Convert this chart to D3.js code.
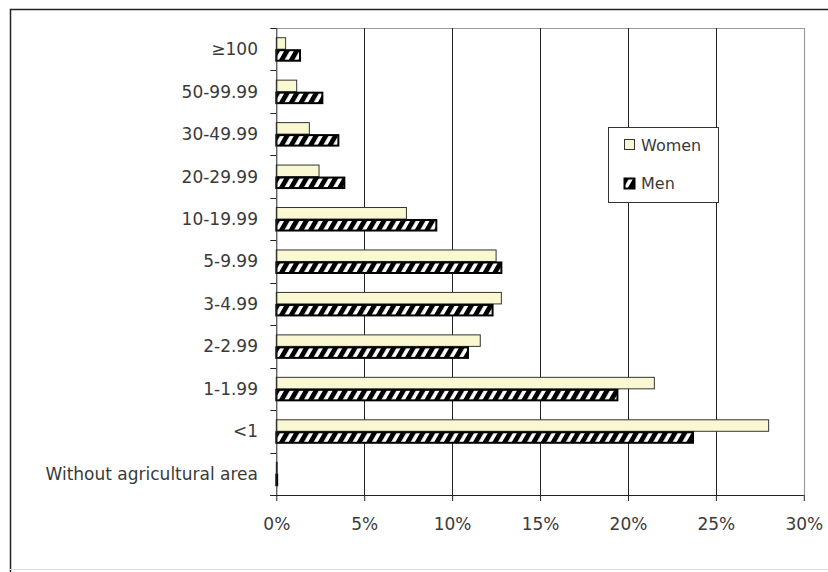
<!doctype html>
<html lang="en">
<head>
  <meta charset="utf-8">
  <title>Women and men by agricultural area</title>
  <script src="https://d3js.org/d3.v7.min.js" charset="utf-8"></script>
</head>
<body style="margin:0;background:#fff;overflow:hidden">
<style>
.chart { display: block; }
.chart text {
  font-family: "DejaVu Sans", Verdana, sans-serif;
  font-size: 17px;
  fill: #3a3a3a;
}
.chart .legend text { font-size: 16px; }
</style>
<svg class="chart"></svg>
<script>
var categories = ["≥100", "50-99.99", "30-49.99", "20-29.99", "10-19.99", "5-9.99",
  "3-4.99", "2-2.99", "1-1.99", "<1", "Without agricultural area"];
var women = [0.53, 1.16, 1.88, 2.43, 7.4, 12.5, 12.8, 11.6, 21.5, 28.0, 0.05];
var men = [1.35, 2.62, 3.53, 3.87, 9.1, 12.8, 12.3, 10.9, 19.4, 23.7, 0.05];
var series = ["Women", "Men"];
var xTicks = [0, 5, 10, 15, 20, 25, 30];

var width = 828, height = 572;
var plotLeft = 276.3, plotRight = 803.8, plotTop = 28, plotBottom = 495;

var svg = d3.select(".chart")
  .attr("width", width)
  .attr("height", height);

// hatch for men
var defs = svg.append("defs");
var pat = defs.append("pattern")
  .attr("id", "hatch")
  .attr("patternUnits", "userSpaceOnUse")
  .attr("width", 8.4).attr("height", 8.4)
  .attr("patternTransform", "rotate(30)");
pat.append("rect").attr("width", 8.4).attr("height", 8.4).attr("fill", "#000");
pat.append("rect").attr("x", 2).attr("width", 3.6).attr("height", 8.4).attr("fill", "#fff");

// outer frame (runs off right edge)
svg.append("path")
  .attr("d", "M10.5,572V9.5H828")
  .attr("fill", "none").attr("stroke", "#222").attr("stroke-width", 1.5);
svg.append("line")
  .attr("x1", 10).attr("x2", 828).attr("y1", 569.5).attr("y2", 569.5)
  .attr("stroke", "#ddd");

var x = d3.scaleLinear().domain([0, 30]).range([plotLeft, plotRight]);
var y = d3.scaleBand().domain(categories).range([plotTop, plotBottom]);
var inner = d3.scaleBand().domain(series).range([9.7, 32.7]);

// plot frame + grid
svg.append("line")
  .attr("x1", plotLeft).attr("x2", plotRight).attr("y1", plotTop + 0.5).attr("y2", plotTop + 0.5)
  .attr("stroke", "#999");
svg.selectAll(".grid").data(xTicks.slice(1)).enter().append("line")
  .attr("class", "grid")
  .attr("x1", function(d) { return Math.round(x(d)) + 0.5; })
  .attr("x2", function(d) { return Math.round(x(d)) + 0.5; })
  .attr("y1", plotTop).attr("y2", plotBottom)
  .attr("stroke", function(d) { return d === 30 ? "#999" : "#222"; })
  .attr("stroke-width", function(d) { return d === 30 ? 1.2 : 1; });

// bars
var groups = svg.selectAll(".cat").data(categories).enter().append("g")
  .attr("class", "cat")
  .attr("transform", function(d) { return "translate(0," + y(d) + ")"; });

groups.append("rect")
  .attr("x", plotLeft)
  .attr("y", inner("Women"))
  .attr("width", function(d, i) { return x(women[i]) - plotLeft; })
  .attr("height", inner.bandwidth())
  .attr("fill", "#f9f8d2")
  .attr("stroke", "#333").attr("stroke-width", 1);

groups.append("rect")
  .attr("x", plotLeft)
  .attr("y", inner("Men") + 1)
  .attr("width", function(d, i) { return x(men[i]) - plotLeft; })
  .attr("height", inner.bandwidth() - 1)
  .attr("fill", "url(#hatch)")
  .attr("stroke", "#000").attr("stroke-width", 2);

// x axis
var xAxis = d3.axisBottom(x).tickValues(xTicks)
  .tickFormat(function(d) { return d + "%"; })
  .tickSize(6).tickPadding(17);
var gx = svg.append("g").attr("transform", "translate(0," + plotBottom + ")").call(xAxis);
gx.select(".domain").attr("stroke", "#222").attr("d", "M" + (plotLeft - 6) + ",0.5H" + plotRight);
gx.selectAll(".tick line").attr("stroke", "#222");
gx.attr("font-size", null).attr("font-family", null);

// y axis
var yTickPos = d3.range(categories.length + 1).map(function(i) { return plotTop + i * y.step(); });
svg.append("line")
  .attr("x1", plotLeft + 0.5).attr("x2", plotLeft + 0.5).attr("y1", plotTop).attr("y2", plotBottom)
  .attr("stroke", "#222");
svg.selectAll(".ytick").data(yTickPos).enter().append("line")
  .attr("class", "ytick")
  .attr("x1", plotLeft - 6).attr("x2", plotLeft)
  .attr("y1", function(d) { return Math.round(d) + 0.5; })
  .attr("y2", function(d) { return Math.round(d) + 0.5; })
  .attr("stroke", "#222");
svg.selectAll(".ylab").data(categories).enter().append("text")
  .attr("class", "ylab")
  .attr("x", 258)
  .attr("y", function(d) { return y(d) + y.bandwidth() / 2; })
  .attr("dy", "0.35em")
  .attr("text-anchor", "end")
  .text(function(d) { return d; });

// legend
var lg = svg.append("g").attr("class", "legend").attr("transform", "translate(608,127)");
lg.append("rect").attr("x", 0.5).attr("y", 0.5).attr("width", 110).attr("height", 75)
  .attr("fill", "#fff").attr("stroke", "#333");
lg.selectAll(".sw").data(series).enter().append("rect")
  .attr("x", 16.5)
  .attr("y", function(d, i) { return 12.5 + i * 39; })
  .attr("width", 10).attr("height", 10)
  .attr("fill", function(d) { return d === "Women" ? "#f9f8d2" : "url(#hatch)"; })
  .attr("stroke", function(d) { return d === "Women" ? "#333" : "#000"; })
  .attr("stroke-width", function(d) { return d === "Women" ? 1 : 2; });
lg.selectAll(".lt").data(series).enter().append("text")
  .attr("x", 33)
  .attr("y", function(d, i) { return 24 + i * 38; })
  .text(function(d) { return d; });
</script>
</body>
</html>
